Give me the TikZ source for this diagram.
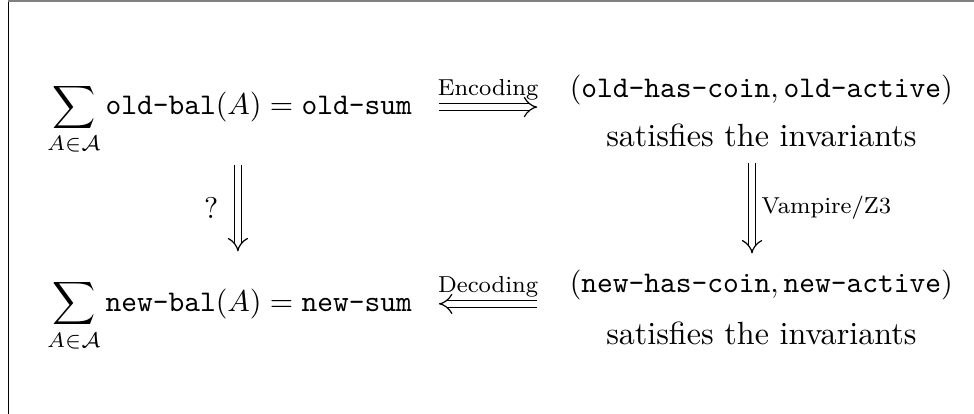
\documentclass[tikz,border=0pt]{standalone}
\usepackage{amsmath, amssymb}
\usetikzlibrary{positioning, arrows.meta}
\tikzset{
implies/.style={double, double distance=2pt, -{Implies}, line width=0.4pt}, % double arrows between the steps
step label/.style={font=\fontsize{7.7pt}{9pt}\selectfont, inner sep=2pt}, % text on the arrows
invariant/.style={font=\fontsize{10.7pt}{13pt}\selectfont}, % second line of the encoded state
}

\begin{document}
\begin{tikzpicture}
            \useasboundingbox (0,0) rectangle (324.7pt,138pt);
            % frame
            \draw[black, line width=0.4pt] (2.8pt,0) -- (2.8pt,138pt);
            \draw[gray, line width=0.6pt] (2.8pt,137.7pt) -- (324.7pt,137.7pt);

            % sums on the left
            \node[anchor=base] (oldsum) at (76.5pt,99.7pt)
                {$\displaystyle\sum_{A\in\mathcal{A}} \texttt{old-bal}(A) = \texttt{old-sum}$};
            \node[anchor=base] (newsum) at (76.5pt,34.2pt)
                {$\displaystyle\sum_{A\in\mathcal{A}} \texttt{new-bal}(A) = \texttt{new-sum}$};

            % encoded state on the right
            \node[anchor=base] (oldpair) at (253.8pt,105.5pt)
                {$(\texttt{old-has-coin}, \texttt{old-active})$};
            \node[invariant, anchor=base] (oldsat) at ([yshift=-16.3pt]oldpair.base) {satisfies the invariants};
            \node[anchor=base] (newpair) at (253.8pt,40.5pt)
                {$(\texttt{new-has-coin}, \texttt{new-active})$};
            \node[invariant, anchor=base] (newsat) at ([yshift=-17.3pt]newpair.base) {satisfies the invariants};

            \draw[implies] ([xshift=5.5pt, yshift=2.6pt]oldsum.base east)
                -- ([xshift=-7.3pt, yshift=2.6pt]oldsum.base east -| oldpair.west)
                node[step label, midway, above] {Encoding};
            \draw[implies] ([xshift=-7.3pt, yshift=2.5pt]newsum.base east -| newpair.west)
                -- ([xshift=5.5pt, yshift=2.5pt]newsum.base east)
                node[step label, midway, above] {Decoding};
            \draw[implies] ([xshift=2.8pt, yshift=-16.7pt]oldsum.base)
                -- ([xshift=2.8pt, yshift=20pt]newsum.base)
                node[midway, left=3pt] {?};
            \draw[implies] ([xshift=-3.1pt, yshift=-5.5pt]oldsat.base)
                -- ([xshift=-3.1pt, yshift=13pt]newpair.base)
                node[step label, midway, right=1pt] {Vampire/Z3};
        \end{tikzpicture}
\end{document}
